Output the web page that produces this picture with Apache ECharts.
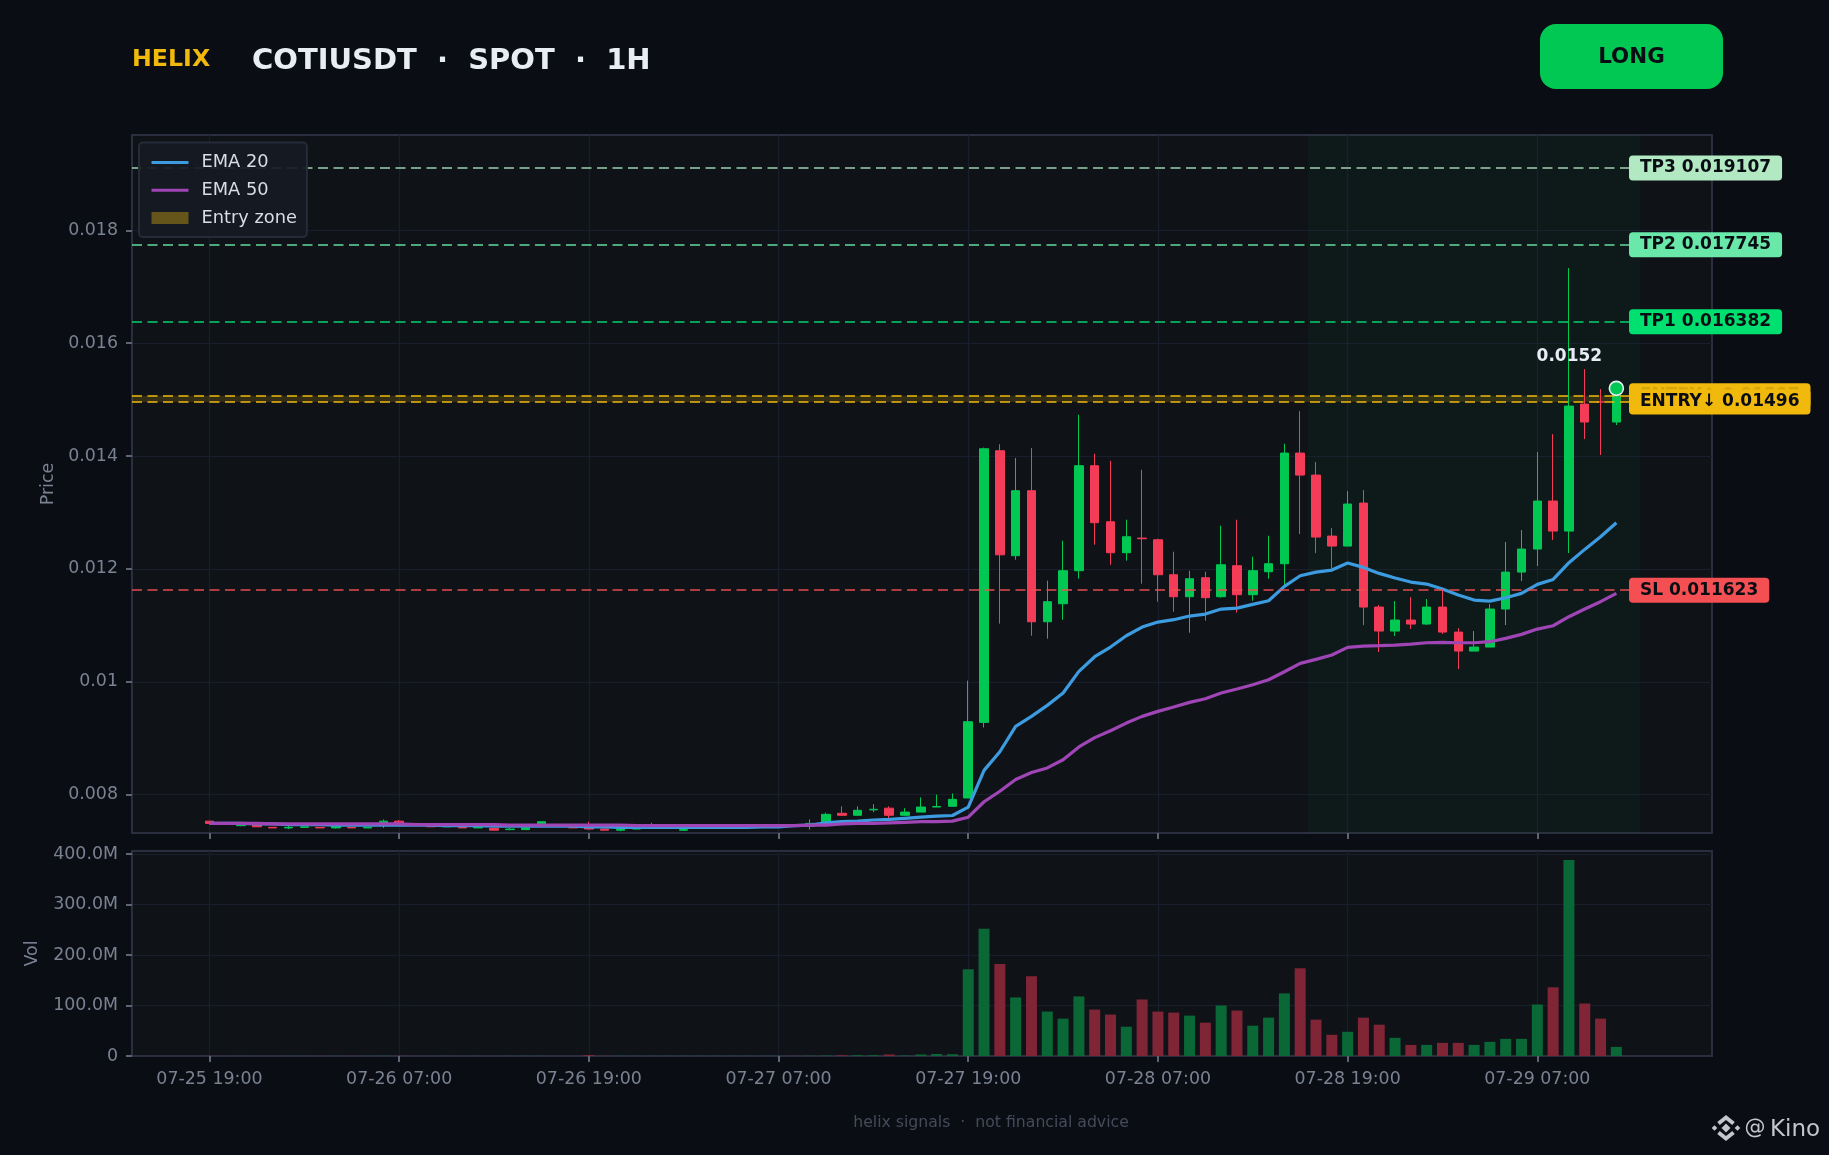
<!DOCTYPE html>
<html><head><meta charset="utf-8">
<style>html,body{margin:0;padding:0;background:#0a0d13}#c{width:1829px;height:1155px}</style>
<script src="https://cdn.jsdelivr.net/npm/echarts@6/dist/echarts.min.js"></script>
</head><body><div id="c"></div>
<script>
const opens=[.00753,.00749,.00745,.00746,.00742,.00741,.00742,.00742,.00741,.00742,.00741,.00749,.00753,.00749,.00745,.00743,.00742,.00741,.00740,.00738,.00738,.00748,.00745,.00742,.00741,.00739,.00737,.00739,.00745,.00743,.00737,.00741,.00742,.00743,.00744,.00746,.00747,.00747,.00744,.007486,.007669,.007634,.00773,.00776,.007634,.00769,.00778,.007793,.00794,.00928,.014095,.012234,.013386,.011064,.011383,.011968,.013829,.012836,.012287,.012547,.012517,.011897,.011507,.011844,.011507,.012057,.011543,.01195,.012092,.014053,.013663,.012582,.012405,.013167,.011324,.010899,.011094,.011023,.011324,.010881,.010544,.010615,.011289,.011944,.012352,.013203,.012671,.014921,.01496,.014603];
const closes=[.00749,.00748,.00746,.00743,.00741,.00742,.00743,.00741,.00744,.00741,.00742,.00753,.00749,.00748,.00743,.00744,.00741,.00742,.00737,.00739,.00741,.00752,.00744,.00741,.00739,.00737,.00739,.00741,.00746,.00744,.00738,.00742,.00743,.00744,.00745,.00746,.00747,.00746,.00749,.007651,.007634,.007722,.00774,.007634,.00769,.00778,.00779,.007917,.009292,.01413,.01225,.013386,.011064,.011419,.011968,.013829,.012819,.012287,.01257,.012535,.011897,.011507,.011826,.01149,.012074,.011543,.011968,.012092,.014053,.013663,.012565,.012405,.01315,.011324,.010899,.011094,.011023,.011324,.010881,.010544,.010615,.011289,.011944,.012352,.013203,.012671,.014886,.014603,.014957,.0152];
const lows=[.00749,.00748,.00744,.00743,.00741,.00739,.00742,.00741,.00740,.00741,.00741,.00741,.00749,.00748,.00743,.00743,.00741,.00741,.00737,.00737,.00738,.00748,.00744,.00741,.00738,.00737,.00735,.00739,.00743,.00743,.00736,.00741,.00742,.00743,.00744,.00745,.00746,.00746,.00738,.007486,.007634,.007634,.00769,.00756,.00762,.00769,.00778,.007793,.00794,.00919,.01103,.012163,.010816,.010763,.0111,.011826,.012429,.012074,.012145,.011738,.011419,.011241,.01087,.011082,.01149,.011224,.011436,.011826,.011702,.012618,.012281,.012009,.012405,.011005,.010527,.01081,.010934,.011005,.010846,.010225,.010544,.010615,.011005,.011785,.012051,.012511,.012281,.014301,.014018,.01455];
const highs=[.00753,.00749,.0075,.00746,.00742,.00745,.00743,.00742,.00744,.00742,.00742,.00756,.00755,.00749,.00745,.00744,.00742,.00742,.0074,.00741,.00741,.00752,.00745,.00742,.00752,.00739,.00739,.00741,.0075,.00744,.00739,.00742,.00743,.00744,.00745,.00747,.00748,.00747,.00756,.00768,.007793,.007793,.00783,.007793,.00776,.00795,.008,.00802,.01002,.01415,.01421,.013965,.014142,.011791,.0125,.014732,.014041,.013917,.012872,.013758,.012535,.012305,.011968,.01195,.012765,.012872,.012216,.012588,.014219,.014797,.013894,.012724,.01338,.013397,.01136,.01143,.011501,.011466,.011625,.010952,.010899,.011377,.012476,.012689,.014071,.01439,.017332,.015542,.015187,.0152];
const ema20=[.00749,.00749,.00749,.00748,.00748,.00747,.00747,.00747,.00746,.00746,.00746,.00746,.00746,.00746,.00746,.00745,.00745,.00745,.00744,.00744,.00744,.00744,.00744,.00744,.00743,.00743,.00742,.00742,.00742,.00742,.00742,.00742,.00742,.00742,.00742,.00743,.00743,.00745,.00746,.0075,.00752,.00753,.00755,.00756,.00758,.0076,.00762,.00763,.00778,.00843,.00876,.009209,.009387,.009582,.0098,.010184,.010444,.010615,.010816,.01097,.011058,.0111,.011165,.0112,.011289,.011306,.011371,.011436,.01169,.011879,.011944,.01198,.012104,.012027,.011921,.011838,.011767,.011732,.011643,.011537,.011448,.01143,.01149,.011566,.011726,.011814,.01211,.012346,.01257,.012819];
const ema50=[.00749,.00749,.00749,.00749,.00748,.00748,.00748,.00748,.00748,.00748,.00748,.00748,.00748,.00747,.00747,.00747,.00747,.00747,.00747,.00746,.00746,.00746,.00746,.00746,.00746,.00746,.00746,.00745,.00745,.00745,.00745,.00745,.00745,.00745,.00745,.00745,.00745,.00745,.00746,.00746,.00748,.00749,.00749,.0075,.00751,.00752,.00752,.00753,.0076,.007874,.00806,.008268,.008392,.008473,.008618,.008845,.00901,.009133,.009268,.009387,.009475,.009552,.009635,.0097,.0098,.009871,.009948,.010036,.010178,.010326,.010397,.010474,.01061,.010633,.010639,.01065,.010668,.010692,.010698,.010692,.010692,.01071,.010769,.01084,.010934,.010993,.011153,.011289,.011419,.011566];
const volumes=[.3,.2,.2,.2,.2,.2,.2,.2,.2,.2,.2,.3,.3,.2,.2,.2,.2,.2,.2,.2,.2,.2,.2,.2,2,.3,.3,.2,.2,.2,.2,.2,.2,.2,.2,.2,.3,.3,.5,.8,1.5,1.5,1.5,3,.8,3,4,3.5,172,252,182,116,158,88,74,118,92,82,58,112,88,86,80,66,100,90,60,76,124,174,72,42,48,76,62,36,22,22,26,26,22,28,34,34,102,136,388,104,74,18];
const tickIndex=[0,12,24,36,48,60,72,84];
const tickLabels=['07-25 19:00','07-26 07:00','07-26 19:00','07-27 07:00','07-27 19:00','07-28 07:00','07-28 19:00','07-29 07:00'];
const priceTicks=[.008,.01,.012,.014,.016,.018];
const volTicks=[0,100,200,300,400];
const tpLevels=[['TP3 0.019107',.019107,'#b2e9c3','rgba(178,233,195,.66)'],['TP2 0.017745',.017745,'#69e8a9','rgba(105,232,169,.7)'],['TP1 0.016382',.016382,'#00e070','rgba(0,224,112,.7)'],['ENTRY↑ 0.01507',.015069,'#f0b90b','rgba(240,185,11,.75)','#d6a60c'],['ENTRY↓ 0.01496',.014957,'#f0b90b','rgba(240,185,11,.75)'],['SL 0.011623',.011623,'#f44f52','rgba(244,79,82,.7)']];
const zoneStart=69.47, zoneEnd=90.52, xMin=-4.9, xMax=95.05, lineEnd=89.8;
const lastPrice=.0152, lastIndex=89;

const GREEN='#00c853', RED='#f43b57', FONT='"DejaVu Sans"', TICK='#7a8292', AXIS='#2a2e3e', SPLIT='#1a1e2c';
const candles=opens.map((o,i)=>[i,o,closes[i],lows[i],highs[i]]);
const xAxisBase=(g,show)=>({type:'value',gridIndex:g,min:xMin,max:xMax,
  axisLine:{show:true,onZero:false,lineStyle:{color:AXIS,width:2}},
  axisTick:{show:true,customValues:tickIndex,length:6,lineStyle:{color:'#5e6574',width:2}},
  axisLabel:{show,customValues:tickIndex,color:TICK,fontSize:17.4,fontFamily:FONT,margin:15,
    formatter:v=>tickLabels[tickIndex.indexOf(v)]||''},
  splitLine:{show:true,lineStyle:{color:SPLIT,width:1.2}}});
const yAxisBase=(g,min,max,ticks,fmt,name,gap)=>({type:'value',gridIndex:g,min,max,name,nameLocation:'middle',nameGap:gap,
  nameTextStyle:{color:TICK,fontSize:17.4,fontFamily:FONT},
  axisLine:{show:true,onZero:false,lineStyle:{color:AXIS,width:2}},
  axisTick:{show:true,customValues:ticks,length:6,lineStyle:{color:'#5e6574',width:2}},
  axisLabel:{customValues:ticks,color:TICK,fontSize:17.4,fontFamily:FONT,margin:14,formatter:fmt},
  splitLine:{show:true,lineStyle:{color:SPLIT,width:1.2}}});
const lvl=(t,v,bg,lc,tc)=>[{xAxis:xMin,yAxis:v,lineStyle:{color:lc,type:[10,5.5],width:2},
  label:{show:true,position:'end',distance:0,formatter:t,color:tc||'#0a0d13',fontFamily:FONT,fontWeight:'bold',fontSize:17,
    backgroundColor:bg,padding:[4,11,4,11],borderRadius:4}},{xAxis:lineEnd,yAxis:v}];
const diamond=(cx,cy,r)=>[[cx,cy-r],[cx+r,cy],[cx,cy+r],[cx-r,cy]];
const logoColor='#c4c6ca';

const chart=echarts.init(document.getElementById('c'),null,{renderer:'canvas'});
chart.setOption({
  backgroundColor:'#0a0d13',animation:false,
  textStyle:{fontFamily:FONT},
  grid:[
    {left:132,right:117,top:135,height:698,show:true,backgroundColor:'#0f1318',borderColor:AXIS,borderWidth:2},
    {left:132,right:117,top:851,height:205,show:true,backgroundColor:'#0f1318',borderColor:AXIS,borderWidth:2}],
  xAxis:[xAxisBase(0,false),xAxisBase(1,true)],
  yAxis:[yAxisBase(0,.00732,.01969,priceTicks,v=>String(+v.toFixed(3)),'Price',75),
         yAxisBase(1,0,406,volTicks,v=>v===0?'0':v.toFixed(1)+'M','Vol',91)],
  legend:{left:139,top:142.5,z:10,orient:'vertical',itemWidth:37,itemHeight:12,itemGap:9.8,padding:[11,10,10,11],
    backgroundColor:'rgba(21,26,36,.93)',borderColor:'#262b3a',borderWidth:2,borderRadius:4,
    textStyle:{color:'#d8dce6',fontSize:17.8,fontFamily:FONT,padding:[0,0,0,8]},
    data:[{name:'EMA 20',itemStyle:{opacity:0},lineStyle:{width:3}},{name:'EMA 50',itemStyle:{opacity:0},lineStyle:{width:3}},{name:'Entry zone',icon:'rect'}]},
  series:[
    {type:'line',name:'zone',xAxisIndex:0,yAxisIndex:0,data:[],z:1,silent:true,
      markArea:{silent:true,itemStyle:{color:'rgba(0,200,83,.035)'},data:[[{xAxis:zoneStart},{xAxis:zoneEnd}]]}},
    {type:'candlestick',name:'Price',xAxisIndex:0,yAxisIndex:0,data:candles,barWidth:9,z:3,
      itemStyle:{color:GREEN,color0:RED,borderColor:GREEN,borderColor0:RED,borderColorDoji:RED,borderWidth:1}},
    {type:'line',name:'EMA 20',xAxisIndex:0,yAxisIndex:0,data:ema20.map((v,i)=>[i,v]),showSymbol:false,symbol:'none',z:4,
      itemStyle:{color:'#3d9be0'},lineStyle:{color:'#3d9be0',width:3.2}},
    {type:'line',name:'EMA 50',xAxisIndex:0,yAxisIndex:0,data:ema50.map((v,i)=>[i,v]),showSymbol:false,symbol:'none',z:4,
      itemStyle:{color:'#a045b5'},lineStyle:{color:'#a045b5',width:3.2}},
    {type:'bar',name:'Entry zone',xAxisIndex:0,yAxisIndex:0,data:[],z:5,itemStyle:{color:'#66551a'},
      markArea:{silent:true,itemStyle:{color:'rgba(240,185,11,.16)'},
        data:[[{xAxis:xMin,yAxis:tpLevels[3][1]},{xAxis:lineEnd,yAxis:tpLevels[4][1]}]]}},
    {type:'line',name:'levels',xAxisIndex:0,yAxisIndex:0,data:[],z:6,silent:true,
      markLine:{silent:true,symbol:['none','none'],animation:false,data:tpLevels.map(l=>lvl(...l))}},
    {type:'line',name:'last',xAxisIndex:0,yAxisIndex:0,data:[],z:7,silent:true,
      markPoint:{silent:true,animation:false,data:[{coord:[lastIndex,lastPrice],symbol:'circle',symbolSize:14,
        itemStyle:{color:GREEN,borderColor:'#e8ecf4',borderWidth:1.6},
        label:{show:true,position:'inside',offset:[-47,-32],formatter:String(lastPrice),color:'#e8ecf4',fontFamily:FONT,fontWeight:'bold',fontSize:17}}]}},
    {type:'bar',name:'Volume',xAxisIndex:1,yAxisIndex:1,barWidth:11,z:3,
      data:volumes.map((v,i)=>({value:[i,v],itemStyle:{color:closes[i]>=opens[i]?'#0a6836':'#7f2536'}}))}
  ],
  graphic:[
    {type:'text',x:132,y:59.5,style:{text:'HELIX',fill:'#f0b90b',font:'bold 23.7px "DejaVu Sans"',align:'left',verticalAlign:'middle'}},
    {type:'text',x:252,y:61.5,style:{text:'COTIUSDT  ·  SPOT  ·  1H',fill:'#e8ecf4',font:'bold 29px "DejaVu Sans"',align:'left',verticalAlign:'middle'}},
    {type:'rect',shape:{x:1540,y:24,width:183,height:65,r:16},style:{fill:'#00c853'}},
    {type:'text',x:1631.5,y:57,style:{text:'LONG',fill:'#0a0d13',font:'bold 21.4px "DejaVu Sans"',align:'center',verticalAlign:'middle'}},
    {type:'text',x:991,y:1123,style:{text:'helix signals  ·  not financial advice',fill:'#454b5a',font:'15.7px "DejaVu Sans"',align:'center',verticalAlign:'middle'}},
    {type:'polygon',shape:{points:diamond(1726,1128,4.5)},style:{fill:logoColor}},
    {type:'polygon',shape:{points:diamond(1714.5,1128,2.8)},style:{fill:logoColor}},
    {type:'polygon',shape:{points:diamond(1737.5,1128,2.8)},style:{fill:logoColor}},
    {type:'polyline',shape:{points:[[1718.5,1123.5],[1726,1117.5],[1733.5,1123.5]]},style:{stroke:logoColor,lineWidth:4,fill:'none'}},
    {type:'polyline',shape:{points:[[1718.5,1132.5],[1726,1138.5],[1733.5,1132.5]]},style:{stroke:logoColor,lineWidth:4,fill:'none'}},
    {type:'text',x:1755,y:1129,style:{text:'@',fill:logoColor,font:'21px "DejaVu Sans"',align:'center',verticalAlign:'middle'}},
    {type:'text',x:1770,y:1130,style:{text:'Kino',fill:logoColor,font:'23px "DejaVu Sans"',align:'left',verticalAlign:'middle'}}
  ]
});
</script></body></html>
